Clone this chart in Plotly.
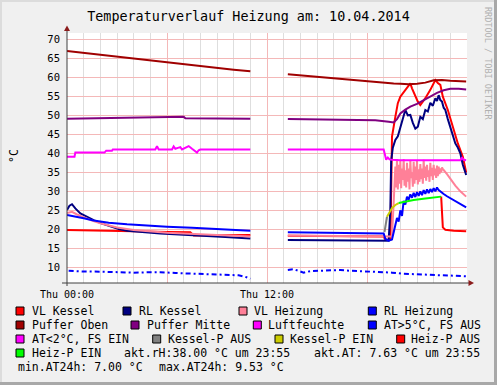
import plotly.graph_objects as go

FONT = "DejaVu Sans Mono"

# ---------------- data (hours since Thu 00:00, °C / %) ----------------
GAP = [12.0]

T_VL_KESSEL = [0, 2, 4, 6, 7.4, 7.6, 9, 11.0] + GAP + [13.25, 16, 19.0, 19.1, 19.4, 19.45, 19.5, 19.7, 19.85, 20.0, 20.3, 20.6, 20.7, 20.9, 21.05, 21.2, 21.5, 21.8, 22.0, 22.1, 22.25, 22.4, 22.55, 22.85, 23.15, 23.45, 23.75, 23.95]
V_VL_KESSEL = [19.8, 19.7, 19.5, 19.3, 19.2, 18.4, 18.5, 18.5] + [None] + [18.3, 18.2, 18.1, 17.3, 17.2, 30.0, 44.4, 49.6, 53.2, 54.9, 56.7, 58.4, 57.1, 55.3, 53.6, 52.7, 54.5, 56.7, 58.4, 59.3, 58.5, 58.0, 54.9, 51.4, 47.0, 42.6, 39.1, 35.0]

T_RL_KESSEL = [0, 0.15, 0.3, 0.5, 0.8, 1.2, 1.6, 2.1, 2.6, 3.1, 3.6, 4.6, 5.6, 7, 8, 9.5, 11.0] + GAP + [13.25, 16, 19.0, 19.3, 19.4, 19.45, 19.55, 19.7, 19.85, 20.0, 20.15, 20.3, 20.45, 20.6, 20.75, 20.9, 21.05, 21.2, 21.35, 21.5, 21.65, 21.8, 21.95, 22.1, 22.2, 22.3, 22.4, 22.5, 22.6, 22.7, 22.85, 23.0, 23.15, 23.3, 23.45, 23.6, 23.75, 23.95]
V_RL_KESSEL = [25.1, 26.2, 26.6, 25.5, 24.2, 23.2, 22.4, 21.5, 20.7, 20.1, 19.6, 19.2, 18.9, 18.6, 18.4, 18.0, 17.6] + [None] + [17.2, 17.1, 17.0, 17.0, 25.0, 38.0, 41.5, 43.5, 44.5, 47.0, 49.5, 51.4, 50.0, 50.1, 48.0, 46.5, 47.0, 49.6, 49.0, 51.4, 51.0, 53.3, 52.5, 54.5, 53.8, 55.3, 54.0, 53.6, 52.0, 51.4, 49.0, 47.0, 45.0, 42.6, 41.5, 40.0, 37.0, 34.3]

T_VL_HEIZUNG = [0, 0.3, 0.6, 1, 1.5, 2, 2.5, 3, 4, 5, 6, 8, 9.5, 11.0] + GAP + [13.25, 19.0, 19.5, 19.6,
    19.70, 19.75, 19.80, 19.85, 19.90, 19.95, 20.00, 20.05, 20.10, 20.15,
    20.20, 20.25, 20.30, 20.35, 20.40, 20.45, 20.50, 20.55, 20.60, 20.65,
    20.70, 20.75, 20.80, 20.85, 20.90, 20.95, 21.00, 21.05, 21.10, 21.15,
    21.20, 21.25, 21.30, 21.35, 21.40, 21.45, 21.50, 21.55, 21.60, 21.65,
    21.70, 21.75, 21.80, 21.85, 21.90, 21.95, 22.00, 22.05, 22.10, 22.15,
    22.20, 22.25, 22.30, 22.35, 22.40, 22.45, 22.50, 22.55,
    22.6, 22.8, 23.0, 23.3, 23.6, 23.95]
V_VL_HEIZUNG = [24.3, 24.6, 23.9, 23.1, 22.3, 21.6, 21.0, 20.5, 19.8, 19.4, 19.1, 18.7, 18.4, 18.1] + [None] + [18.4, 18.2, 18.1, 27.0,
    36.5, 31.0, 38.5, 30.5, 37.0, 32.0, 38.0, 30.8, 36.0, 33.0,
    38.5, 31.5, 35.5, 31.0, 37.5, 32.5, 36.0, 30.5, 38.2, 33.5,
    35.0, 31.2, 37.8, 32.0, 36.5, 33.0, 38.0, 31.8, 35.8, 32.5,
    37.2, 33.2, 36.0, 32.0, 38.3, 33.5, 36.5, 32.8, 37.0, 33.8,
    35.5, 32.5, 37.5, 34.0, 36.2, 33.0, 37.0, 34.2, 36.0, 33.5,
    36.8, 34.0, 36.5, 34.5, 36.0, 35.0, 36.3, 35.8,
    35.6, 34.5, 33.2, 31.5, 30.0, 28.6]

T_RL_HEIZUNG = [0, 0.5, 1, 1.6, 2.5, 3.6, 5, 6, 7.5, 8.6, 10, 11.0] + GAP + [13.25, 16, 19.0, 19.1, 19.3, 19.5,
    19.7, 19.8, 19.9, 20.0, 20.1, 20.2, 20.3, 20.4, 20.5, 20.6, 20.7, 20.8, 20.9, 21.0,
    21.1, 21.2, 21.3, 21.4, 21.5, 21.6, 21.7, 21.8, 21.9, 22.0, 22.1, 22.2, 22.3,
    22.45, 22.6, 22.8, 23.0, 23.3, 23.6, 23.95]
V_RL_HEIZUNG = [23.8, 23.4, 22.9, 22.3, 21.7, 21.3, 20.9, 20.7, 20.4, 20.2, 19.9, 19.6] + [None] + [19.2, 19.0, 18.9, 17.5, 17.0, 17.3,
    20.7, 23.0, 22.0, 25.0, 23.5, 27.5, 26.5, 28.6, 27.8, 29.2, 28.3, 29.6, 28.5, 29.8,
    28.8, 30.0, 29.0, 30.3, 29.3, 30.5, 29.5, 30.6, 29.8, 30.8, 30.0, 31.0, 30.3,
    29.9, 29.3, 28.7, 28.2, 27.5, 26.8, 25.8]

T_PUFFER_OBEN = [0, 1, 2, 3, 4, 5, 6, 7, 7.1, 8, 9, 10, 11.0] + GAP + [13.25, 14, 15, 16, 17, 18, 19, 19.6, 20.0, 20.5, 21.0, 21.5, 22.0, 22.5, 23, 23.5, 23.95]
V_PUFFER_OBEN = [66.9, 66.4, 65.9, 65.4, 64.9, 64.4, 63.9, 63.5, 63.3, 62.9, 62.4, 62.0, 61.6] + [None] + [60.8, 60.5, 60.1, 59.7, 59.3, 58.9, 58.6, 58.4, 58.3, 58.2, 58.3, 58.6, 59.2, 59.3, 59.1, 59.0, 58.9]

T_PUFFER_MITTE = [0, 2, 4, 5.5, 6.5, 7.0, 7.1, 9, 11.0] + GAP + [13.25, 15, 17, 18.5, 19.3, 19.6, 19.8, 20.0, 20.3, 20.6, 21.0, 21.4, 21.8, 22.2, 22.6, 23.0, 23.5, 23.95]
V_PUFFER_MITTE = [49.1, 49.2, 49.3, 49.5, 49.6, 49.6, 49.2, 49.1, 49.1] + [None] + [49.0, 48.9, 48.8, 48.7, 48.3, 48.1, 49.0, 50.5, 51.5, 52.3, 53.0, 54.0, 54.9, 55.9, 56.6, 57.0, 57.0, 56.8]

T_LUFTFEUCHTE = [0, 0.45, 0.5, 2.25, 2.35, 2.7, 2.75, 5.3, 5.4, 5.5, 5.6, 6.3, 6.4, 6.5, 6.7, 6.8, 6.9, 7.2, 7.3, 7.5, 7.7, 7.8, 7.9, 8.0, 11.0] + GAP + [13.25, 19.0, 19.15, 19.25, 19.35, 19.5, 20, 21, 22, 23, 23.6, 23.7, 23.8, 23.95]
V_LUFTFEUCHTE = [39.1, 39.1, 40.2, 40.2, 40.7, 40.7, 41.0, 41.0, 41.9, 41.0, 41.0, 41.0, 41.8, 41.2, 41.5, 41.6, 41.0, 41.8, 41.9, 41.2, 40.6, 40.2, 40.8, 41.0, 41.0] + [None] + [41.0, 41.0, 38.3, 38.9, 38.4, 38.3, 38.2, 38.2, 38.2, 38.2, 38.2, 38.8, 38.3, 38.2]

T_AT = [0.1, 0.5, 1, 2, 3, 4, 5, 5.6, 6.5, 7.5, 8, 9, 9.8, 10.3, 10.7, 11.0] + GAP + [13.25, 13.6, 14.2, 14.6, 15.2, 15.8, 16.4, 17.0, 17.6, 18.2, 18.8, 19.5, 20.2, 21.0, 21.8, 22.5, 23.2, 23.95]
V_AT = [9.1, 9.0, 8.9, 8.85, 8.7, 8.6, 8.7, 8.7, 8.5, 8.3, 8.2, 8.1, 8.0, 7.9, 7.5, 7.0] + [None] + [9.3, 9.5, 8.6, 9.0, 9.1, 9.2, 9.3, 9.1, 9.0, 8.9, 8.8, 8.6, 8.3, 8.1, 8.0, 7.9, 7.8, 7.63]

T_KESSEL_P_AUS = [19.05, 19.15, 19.2]
V_KESSEL_P_AUS = [19.3, 21.5, 23.3]
T_KESSEL_P_EIN = [19.2, 19.35, 19.5, 19.7, 19.9]
V_KESSEL_P_EIN = [23.3, 24.6, 25.6, 26.4, 26.9]
T_HEIZ_P_EIN = [19.9, 20.3, 20.8, 21.5, 22.0, 22.45]
V_HEIZ_P_EIN = [26.9, 27.3, 27.7, 28.1, 28.3, 28.6]
T_HEIZ_P_AUS = [22.45, 22.55, 22.7, 23.2, 23.95]
V_HEIZ_P_AUS = [28.6, 20.5, 19.9, 19.6, 19.5]

LEGEND_LABELS = ["VL Kessel", "RL Kessel", "VL Heizung", "RL Heizung",
                 "Puffer Oben", "Puffer Mitte", "Luftfeuchte", "AT>5°C, FS AUS",
                 "AT<2°C, FS EIN", "Kessel-P AUS", "Kessel-P EIN", "Heiz-P AUS",
                 "Heiz-P EIN"]
LEGEND_COLORS = ["#FF0000", "#000080", "#FF8098", "#0000FF",
                 "#A00000", "#800080", "#FF00FF", "#0000FF",
                 "#FF00FF", "#808080", "#CCCC00", "#FF0000",
                 "#00FF00"]
INFO_TEXTS = ["akt.rH:38.00 °C um 23:55", "akt.AT: 7.63 °C um 23:55",
              "min.AT24h: 7.00 °C", "max.AT24h: 9.53 °C"]
X_TICKS = [0, 6, 12, 18]
X_TICK_TEXT = ["Thu 00:00", "", "Thu 12:00", ""]
Y_TICKS = [10, 15, 20, 25, 30, 35, 40, 45, 50, 55, 60, 65, 70]
TITLE = "Temperaturverlauf Heizung am: 10.04.2014"

# ---------------- figure ----------------
W, H = 497, 385
L, R, T, B = 67, 467, 33, 283


def PX(px):
    return (px - L) / (R - L)


def PY(py):
    return (B - py) / (B - T)


fig = go.Figure()

series = [
    (T_VL_KESSEL, V_VL_KESSEL, LEGEND_COLORS[0], None),
    (T_RL_KESSEL, V_RL_KESSEL, LEGEND_COLORS[1], None),
    (T_VL_HEIZUNG, V_VL_HEIZUNG, LEGEND_COLORS[2], None),
    (T_RL_HEIZUNG, V_RL_HEIZUNG, LEGEND_COLORS[3], None),
    (T_PUFFER_OBEN, V_PUFFER_OBEN, LEGEND_COLORS[4], None),
    (T_PUFFER_MITTE, V_PUFFER_MITTE, LEGEND_COLORS[5], None),
    (T_LUFTFEUCHTE, V_LUFTFEUCHTE, LEGEND_COLORS[6], None),
    (T_AT, V_AT, LEGEND_COLORS[7], "5px,3px,2px,3px"),
    (T_KESSEL_P_AUS, V_KESSEL_P_AUS, LEGEND_COLORS[9], None),
    (T_KESSEL_P_EIN, V_KESSEL_P_EIN, LEGEND_COLORS[10], None),
    (T_HEIZ_P_AUS, V_HEIZ_P_AUS, LEGEND_COLORS[11], None),
    (T_HEIZ_P_EIN, V_HEIZ_P_EIN, LEGEND_COLORS[12], None),
]
for t, v, c, dash in series:
    fig.add_trace(go.Scatter(x=t, y=v, mode="lines", connectgaps=False,
                             line=dict(color=c, width=2, dash=dash),
                             hoverinfo="skip", showlegend=False))

shapes = []
AXC = "#404040"
ARC = "#8B1C1C"
# axes lines
shapes.append(dict(type="line", xref="paper", yref="paper", x0=PX(L), x1=PX(L),
                   y0=PY(286), y1=PY(28), line=dict(color=AXC, width=1)))
shapes.append(dict(type="line", xref="paper", yref="paper", x0=PX(62), x1=PX(470),
                   y0=PY(B), y1=PY(B), line=dict(color=AXC, width=1)))
# arrows
shapes.append(dict(type="path", xref="paper", yref="paper",
                   path=f"M{PX(L)},{PY(25.5)} L{PX(L-3)},{PY(31)} L{PX(L+3)},{PY(31)} Z",
                   fillcolor=ARC, line=dict(color=ARC, width=0)))
shapes.append(dict(type="path", xref="paper", yref="paper",
                   path=f"M{PX(474)},{PY(B)} L{PX(468.5)},{PY(B-3)} L{PX(468.5)},{PY(B+3)} Z",
                   fillcolor=ARC, line=dict(color=ARC, width=0)))
# outer frame shading
shapes.append(dict(type="rect", xref="paper", yref="paper", x0=PX(0), x1=PX(W),
                   y0=PY(0), y1=PY(2), fillcolor="#DCDCDC", line=dict(width=0), layer="below"))
shapes.append(dict(type="rect", xref="paper", yref="paper", x0=PX(0), x1=PX(2),
                   y0=PY(0), y1=PY(H), fillcolor="#DCDCDC", line=dict(width=0), layer="below"))
shapes.append(dict(type="rect", xref="paper", yref="paper", x0=PX(0), x1=PX(W),
                   y0=PY(H - 3), y1=PY(H), fillcolor="#A8A8A8", line=dict(width=0), layer="below"))
shapes.append(dict(type="rect", xref="paper", yref="paper", x0=PX(W - 3), x1=PX(W),
                   y0=PY(0), y1=PY(H), fillcolor="#A8A8A8", line=dict(width=0), layer="below"))

annotations = []
# legend layout: (label index, box left px, text left px, row center y px)
legend_pos = [
    (0, 16, 31, 311), (1, 123, 138.3, 311), (2, 239, 253.3, 311), (3, 368.3, 382.7, 311),
    (4, 16, 31, 325), (5, 131, 145.5, 325), (6, 253.3, 267.3, 325), (7, 368.3, 382.7, 325),
    (8, 16, 31, 339), (9, 152.7, 166.7, 339), (10, 275, 288.7, 339), (11, 396.7, 410, 339),
    (12, 16, 31, 353),
]
LF = dict(family=FONT, size=11.5, color="black")
for idx, bx, tx, cy in legend_pos:
    shapes.append(dict(type="rect", xref="paper", yref="paper",
                       x0=PX(bx), x1=PX(bx + 8), y0=PY(cy - 4), y1=PY(cy + 4),
                       fillcolor=LEGEND_COLORS[idx], line=dict(color="black", width=1)))
    annotations.append(dict(xref="paper", yref="paper", x=PX(tx - 1), y=PY(cy),
                            xanchor="left", yanchor="middle", showarrow=False,
                            text=LEGEND_LABELS[idx], font=LF))
info_pos = [(122.7, 353), (312.7, 353), (16.7, 367), (158.3, 367)]
for txt, (tx, cy) in zip(INFO_TEXTS, info_pos):
    annotations.append(dict(xref="paper", yref="paper", x=PX(tx - 1), y=PY(cy),
                            xanchor="left", yanchor="middle", showarrow=False,
                            text=txt, font=LF))
# y axis title
annotations.append(dict(xref="paper", yref="paper", x=PX(14), y=PY(156), textangle=-90,
                        xanchor="center", yanchor="middle", showarrow=False, text="°C",
                        font=dict(family=FONT, size=11.5, color="black")))
# watermark
annotations.append(dict(xref="paper", yref="paper", x=PX(488), y=PY(63), textangle=90,
                        xanchor="center", yanchor="middle", showarrow=False,
                        text="RRDTOOL / TOBI OETIKER",
                        font=dict(family=FONT, size=8.5, color="#B0B0B0")))

MGRID = "#F4B8B8"
fig.update_layout(
    width=W, height=H,
    margin=dict(l=L, r=W - R, t=T, b=H - B, pad=0),
    paper_bgcolor="#F0F0F0", plot_bgcolor="#FFFFFF",
    title=dict(text=TITLE, x=0.5, xanchor="center", y=1 - 16 / H, yanchor="middle",
               font=dict(family=FONT, size=13.4, color="black")),
    xaxis=dict(range=[0, 24], tickvals=X_TICKS, ticktext=X_TICK_TEXT,
               showgrid=True, gridcolor=MGRID, gridwidth=1, zeroline=False,
               showline=False, ticks="", ticklabelstandoff=4,
               tickfont=dict(family=FONT, size=10, color="black"),
               minor=dict(dtick=1, tick0=0, showgrid=True, gridcolor="#DEDEDE", gridwidth=1)),
    yaxis=dict(range=[5.87, 71.66], tickvals=Y_TICKS, showgrid=True, gridcolor=MGRID,
               gridwidth=1, zeroline=False, showline=False, ticks="", ticklabelstandoff=6,
               tickfont=dict(family=FONT, size=10.5, color="black")),
    shapes=shapes, annotations=annotations, showlegend=False,
)

fig.write_html("out.html", config={"displayModeBar": False, "staticPlot": True},
               post_script="document.body.style.margin='0';document.body.style.padding='0';")
